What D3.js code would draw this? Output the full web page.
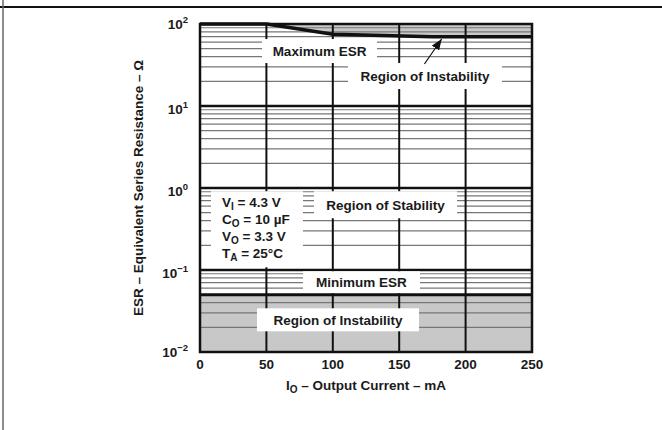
<!DOCTYPE html>
<html>
<head>
<meta charset="utf-8">
<script src="https://cdn.jsdelivr.net/npm/d3@7"></script>
<style>
body { margin: 0; background: #fff; }
text { font-family: "Liberation Sans", Arial, Helvetica, sans-serif; font-weight: bold; fill: #1a1a1a; }
</style>
</head>
<body>
<script>
// data
var current = [0, 50, 100, 175, 250];          // mA
var maxEsr = [100, 100, 75, 70, 70];           // ohm
var minCurrent = [0, 250];
var minEsr = [0.05, 0.05];
var xTicks = [0, 50, 100, 150, 200, 250];
var yTicks = [100, 10, 1, 0.1, 0.01];
var yTickExp = ["2", "1", "0", "\u22121", "\u22122"];
var conditions = [["V", "I", " = 4.3 V"], ["C", "O", " = 10 \u00b5F"], ["V", "O", " = 3.3 V"], ["T", "A", " = 25\u00b0C"]];

var width = 662, height = 430;
var margin = {top: 24, right: 130, bottom: 78, left: 200};

var x = d3.scaleLinear().domain([0, 250]).range([margin.left, width - margin.right]);
var y = d3.scaleLog().domain([0.01, 100]).range([height - margin.bottom, margin.top]);

var svg = d3.select("body").append("svg")
    .attr("width", width)
    .attr("height", height);

svg.append("rect").attr("width", width).attr("height", height).attr("fill", "#fff");

// page frame
svg.append("line").attr("x1", 0).attr("x2", width).attr("y1", 7).attr("y2", 7)
    .attr("stroke", "#111").attr("stroke-width", 2);
svg.append("line").attr("x1", 3).attr("x2", 3).attr("y1", 0).attr("y2", height)
    .attr("stroke", "#666").attr("stroke-width", 1.5);

var maxPts = current.map(function(d, i) { return [d, maxEsr[i]]; });
var minPts = minCurrent.map(function(d, i) { return [d, minEsr[i]]; });

// instability regions
svg.append("path")
    .datum(maxPts)
    .attr("fill", "#c8c8c8")
    .attr("d", d3.area().x(function(d) { return x(d[0]); }).y0(y(100)).y1(function(d) { return y(d[1]); }));
svg.append("path")
    .datum(minPts)
    .attr("fill", "#c8c8c8")
    .attr("d", d3.area().x(function(d) { return x(d[0]); }).y0(y(0.01)).y1(function(d) { return y(d[1]); }));

function isDecade(d) {
  var l = Math.log10(d);
  return Math.abs(l - Math.round(l)) < 1e-6;
}

// horizontal grid
svg.append("g").selectAll("line")
    .data(y.ticks().filter(function(d) { return d > 0.0100001 && d < 99.999; }))
  .enter().append("line")
    .attr("x1", x(0)).attr("x2", x(250))
    .attr("y1", function(d) { return y(d); }).attr("y2", function(d) { return y(d); })
    .attr("stroke", function(d) { return isDecade(d) ? "#111" : "#777"; })
    .attr("stroke-width", function(d) { return isDecade(d) ? 2.5 : 1.2; });

// vertical grid
svg.append("g").selectAll("line")
    .data(xTicks.slice(1, -1))
  .enter().append("line")
    .attr("x1", function(d) { return x(d); }).attr("x2", function(d) { return x(d); })
    .attr("y1", y(100)).attr("y2", y(0.01))
    .attr("stroke", "#111").attr("stroke-width", 2);

// region labels (white boxes over the grid)
var labels = [
  {t: "Maximum ESR", mA: 90, ohm: 46.8, w: 115, h: 24},
  {t: "Region of Instability", mA: 169.4, ohm: 23.2, w: 154, h: 26},
  {t: "Region of Stability", mA: 139.7, ohm: 0.625, w: 143, h: 27},
  {t: "Minimum ESR", mA: 121.6, ohm: 0.0708, w: 117, h: 22},
  {t: "Region of Instability", mA: 103.9, ohm: 0.0247, w: 162, h: 23}
];

var lg = svg.append("g").selectAll("g")
    .data(labels)
  .enter().append("g")
    .attr("transform", function(d) { return "translate(" + x(d.mA) + "," + y(d.ohm) + ")"; });
lg.append("rect")
    .attr("x", function(d) { return -d.w / 2; })
    .attr("y", function(d) { return -d.h / 2; })
    .attr("width", function(d) { return d.w; })
    .attr("height", function(d) { return d.h; })
    .attr("fill", "#fff");

// conditions box
var cond = {mA: 42.9, ohm: 0.314, w: 92, h: 76};
svg.append("rect")
    .attr("x", x(cond.mA) - cond.w / 2)
    .attr("y", y(cond.ohm) - cond.h / 2)
    .attr("width", cond.w).attr("height", cond.h)
    .attr("fill", "#fff");

// ESR limit lines
var line = d3.line().x(function(d) { return x(d[0]); }).y(function(d) { return y(d[1]); });
svg.append("path").datum(maxPts)
    .attr("fill", "none").attr("stroke", "#111").attr("stroke-width", 3.5)
    .attr("d", line);
svg.append("path").datum(minPts)
    .attr("fill", "none").attr("stroke", "#111").attr("stroke-width", 3)
    .attr("d", line);

// plot border
svg.append("rect")
    .attr("x", x(0)).attr("y", y(100))
    .attr("width", x(250) - x(0)).attr("height", y(0.01) - y(100))
    .attr("fill", "none").attr("stroke", "#111").attr("stroke-width", 2.5);

lg.append("text")
    .attr("text-anchor", "middle")
    .attr("y", 5)
    .style("font-size", "13.5px")
    .text(function(d) { return d.t; });

// arrow from upper label to the max ESR curve
var arrow = {from: [169, 32.5], to: [182, 65.6]};
svg.append("defs").append("marker")
    .attr("id", "head")
    .attr("viewBox", "0 0 10 8")
    .attr("refX", 10).attr("refY", 4)
    .attr("markerUnits", "userSpaceOnUse")
    .attr("markerWidth", 11).attr("markerHeight", 9)
    .attr("orient", "auto")
  .append("path")
    .attr("d", "M0,0L10,4L0,8Z")
    .attr("fill", "#111");
svg.append("line")
    .attr("x1", x(arrow.from[0])).attr("y1", y(arrow.from[1]))
    .attr("x2", x(arrow.to[0])).attr("y2", y(arrow.to[1]))
    .attr("stroke", "#111").attr("stroke-width", 1.2)
    .attr("marker-end", "url(#head)");

// conditions text
var condLeft = x(cond.mA) - cond.w / 2 + 11;
var condTop = y(cond.ohm) - cond.h / 2;
conditions.forEach(function(c, i) {
  var t = svg.append("text")
      .attr("x", condLeft)
      .attr("y", condTop + 16 + i * 17)
      .style("font-size", "13.5px");
  t.append("tspan").text(c[0]);
  t.append("tspan").attr("dy", 3).style("font-size", "10px").text(c[1]);
  t.append("tspan").attr("dy", -3).text(c[2]);
});

// x tick labels
svg.append("g").selectAll("text")
    .data(xTicks)
  .enter().append("text")
    .attr("x", function(d) { return x(d); })
    .attr("y", y(0.01) + 17)
    .attr("text-anchor", "middle")
    .style("font-size", "13.5px")
    .text(function(d) { return d; });

// y tick labels (powers of ten)
var yl = svg.append("g").selectAll("text")
    .data(yTicks)
  .enter().append("text")
    .attr("x", x(0) - 12)
    .attr("y", function(d, i) { return y(d) + (i === 0 || i === yTicks.length - 1 ? 4.5 : 8); })
    .attr("text-anchor", "end")
    .style("font-size", "13.5px");
yl.append("tspan").text("10");
yl.append("tspan").attr("dy", -6).style("font-size", "9.5px").text(function(d, i) { return yTickExp[i]; });

// axis titles
var xt = svg.append("text")
    .attr("x", (x(0) + x(250)) / 2)
    .attr("y", 390)
    .attr("text-anchor", "middle")
    .style("font-size", "13.5px");
xt.append("tspan").text("I");
xt.append("tspan").attr("dy", 3).style("font-size", "10px").text("O");
xt.append("tspan").attr("dy", -3).text(" \u2013 Output Current \u2013 mA");

svg.append("text")
    .attr("transform", "translate(143," + (y(0.01) + y(100)) / 2 + ") rotate(-90)")
    .attr("text-anchor", "middle")
    .style("font-size", "13.5px")
    .text("ESR \u2013 Equivalent Series Resistance \u2013 \u03a9");
</script>
</body>
</html>
